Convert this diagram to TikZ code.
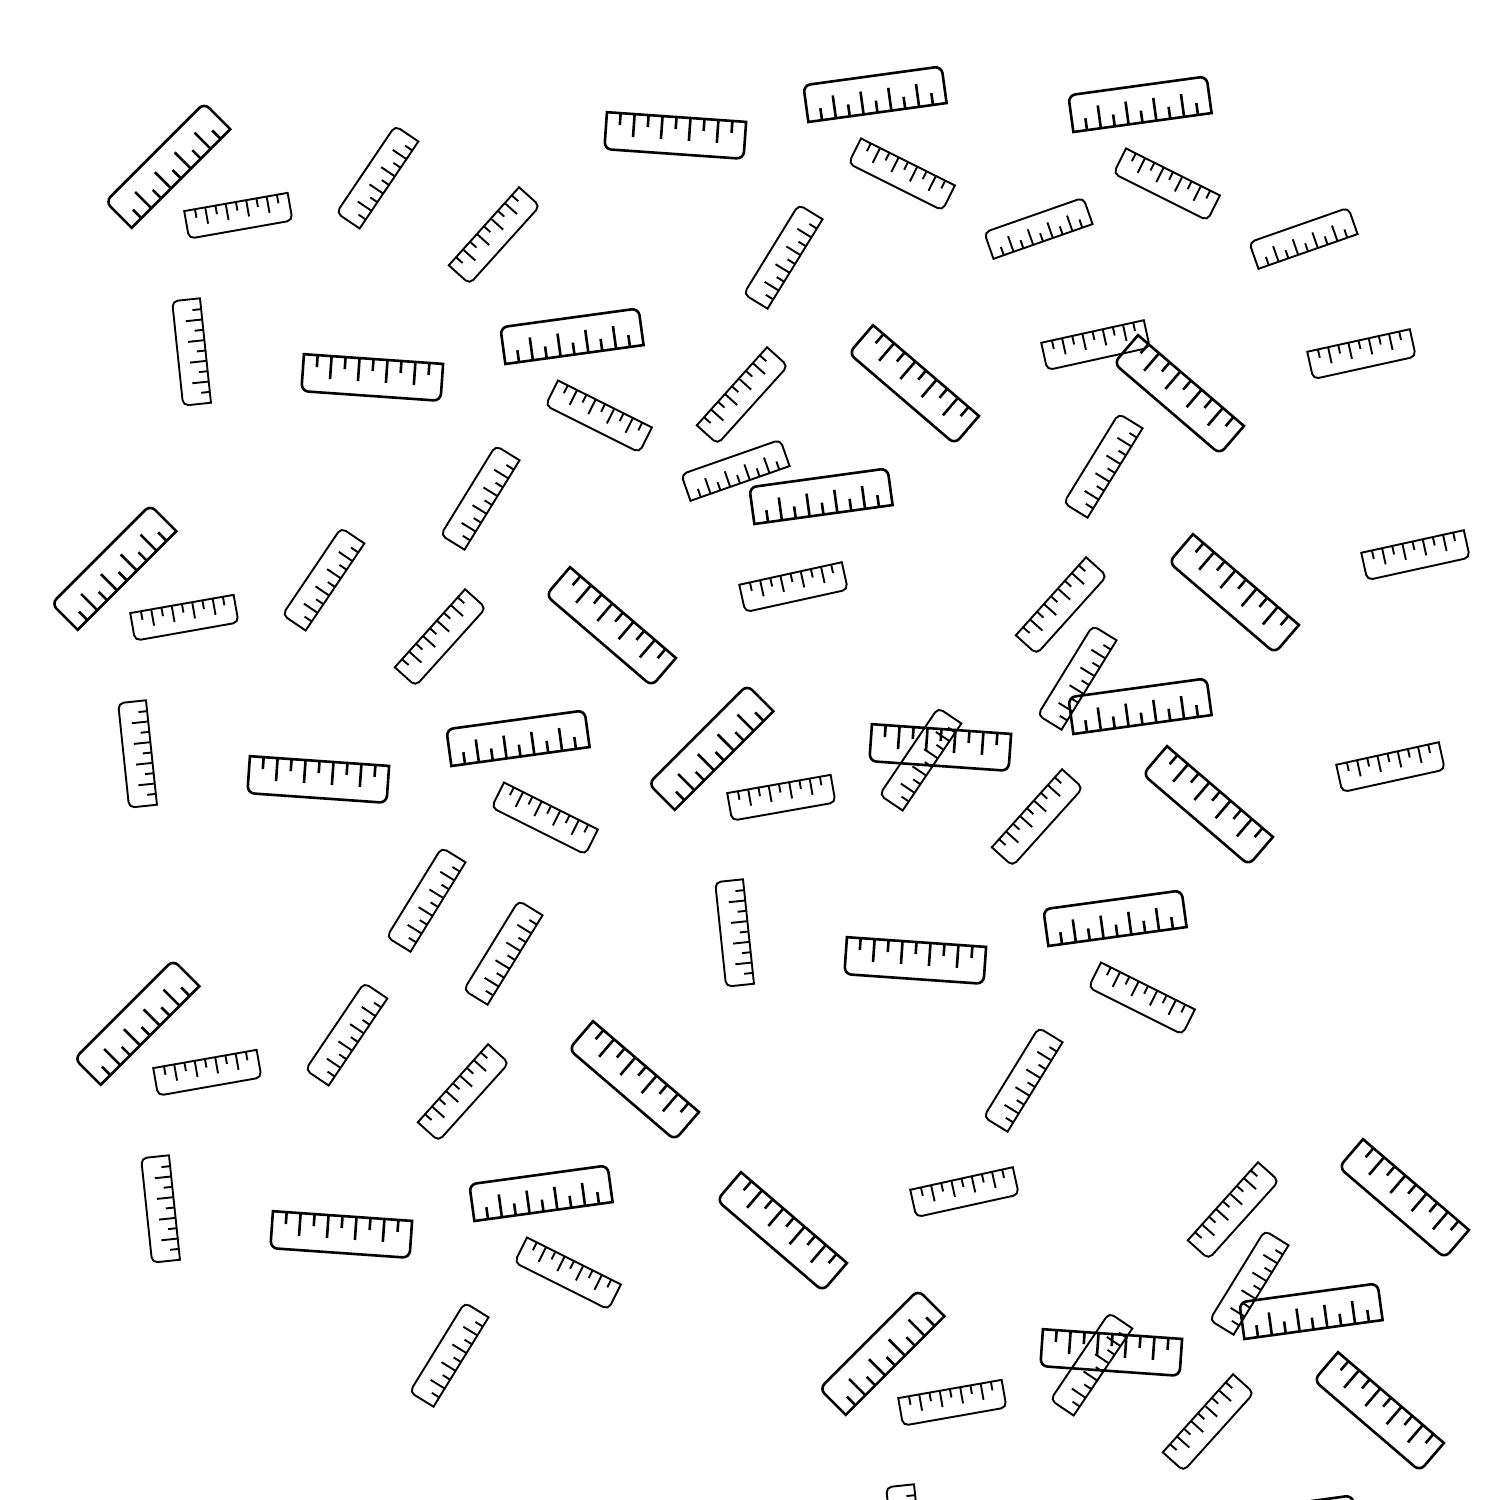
\documentclass[tikz,border=0pt]{standalone}
\tikzset{
  rulerline/.style={draw=black,line join=miter,line cap=butt},
  pics/bigruler/.style={code={\rulerdraw{139.5}{19}{37}{7}{14}{12}{23}{2.6}}},
  pics/smallruler/.style={code={\rulerdraw{105}{14.25}{28}{5.5}{10.4}{8.7}{16.5}{1.9}}}
}
% length, tick edge offset, height, corner radius, tick spacing, short tick, long tick, line width
\newcommand{\rulerdraw}[8]{%
  \pgfmathsetmacro{\hl}{#1/2}\pgfmathsetmacro{\hh}{#2}\pgfmathsetmacro{\tp}{#2-#3}%
  \pgfmathsetmacro{\kc}{#4*0.45}%
  \draw[rulerline,line width=#8pt]
    (-\hl,\hh) -- (\hl,\hh) -- (\hl,\tp+#4)
    .. controls (\hl,\tp+\kc) and (\hl-\kc,\tp) .. (\hl-#4,\tp)
    -- (-\hl+#4,\tp)
    .. controls (-\hl+\kc,\tp) and (-\hl,\tp+\kc) .. (-\hl,\tp+#4)
    -- cycle;
  \foreach \i in {-4,...,4}{%
    \pgfmathsetmacro{\tx}{\i*#5}%
    \pgfmathparse{int(mod(abs(\i),2))}%
    \ifnum\pgfmathresult=0 \def\tl{#6}\else \def\tl{#7}\fi
    \draw[rulerline,line width=#8pt] (\tx,\hh) -- (\tx,\hh-\tl);
  }%
}
\begin{document}
\begin{tikzpicture}[x=1pt,y=-1pt]
\useasboundingbox (0,0) rectangle (1500,1500);
\clip (0,0) rectangle (1500,1500);
% T1 big 45
\foreach \x/\y in {167.6/165.1,113.6/567.1,136.6/1022.1,710.6/747.1,881.6/1352.1}
  \pic[rotate=45] at (\x,\y) {bigruler};
% T5 big, ticks on top
\foreach \x/\y in {675.2/136,372.2/378,318.2/780,341.2/1235,940.2/748,1111.2/1353,915.2/961}
  \pic[rotate=176] at (\x,\y) {bigruler};
% T6 big, ticks below
\foreach \x/\y in {874.9/93.7,1139.9/103.7,571.9/335.7,517.9/737.7,540.9/1192.7,1139.9/705.7,1310.9/1310.7,1114.9/917.7,820.9/495.7,1285.9/1522.7}
  \pic[rotate=7.8] at (\x,\y) {bigruler};
% T10 big, ticks upper right
\foreach \x/\y in {913.6/385,610.6/627,1233.6/594,1207.6/806,633.6/1081,781.6/1232,1403.6/1199,1378.6/1412,1178.6/395}
  \pic[rotate=139.4] at (\x,\y) {bigruler};
% T2 small
\foreach \x/\y in {238.4/216,184.4/618,207.4/1073,781.4/798,952.4/1403}
  \pic[rotate=190] at (\x,\y) {smallruler};
% T2b small
\foreach \x/\y in {1415.6/555.4,1361.6/354.4,1390.6/767.4,964.6/1192.4,793.6/587.4,1095.6/345.4}
  \pic[rotate=192.4] at (\x,\y) {smallruler};
% T3 small
\foreach \x/\y in {377.2/177,323.2/579,346.2/1034,920.2/759,1091.2/1364}
  \pic[rotate=56] at (\x,\y) {smallruler};
% T3b small
\foreach \x/\y in {782.9/256.5,1102.9/465.5,479.9/497.5,1076.9/677.5,425.9/899.5,502.9/952.5,1022.9/1079.5,448.9/1354.5,1248.9/1282.5}
  \pic[rotate=58.4] at (\x,\y) {smallruler};
% T4 small
\foreach \x/\y in {494.5/235.8,440.5/637.8,463.5/1092.8,1037.5/817.8,1208.5/1422.8,742.5/395.8,1061.5/605.8,1233.5/1210.8}
  \pic[rotate=228] at (\x,\y) {smallruler};
% T7 small
\foreach \x/\y in {901.6/174.7,1166.6/184.7,598.6/416.7,544.6/818.7,567.6/1273.7,1141.6/998.7}
  \pic[rotate=153.4] at (\x,\y) {smallruler};
% T8 small
\foreach \x/\y in {1038.3/228,1303.3/238,735.3/470}
  \pic[rotate=19.3] at (\x,\y) {smallruler};
% T9 small
\foreach \x/\y in {191.3/352,137.3/754,160.3/1209,734.3/933,905.3/1538}
  \pic[rotate=96] at (\x,\y) {smallruler};
\end{tikzpicture}
\end{document}
